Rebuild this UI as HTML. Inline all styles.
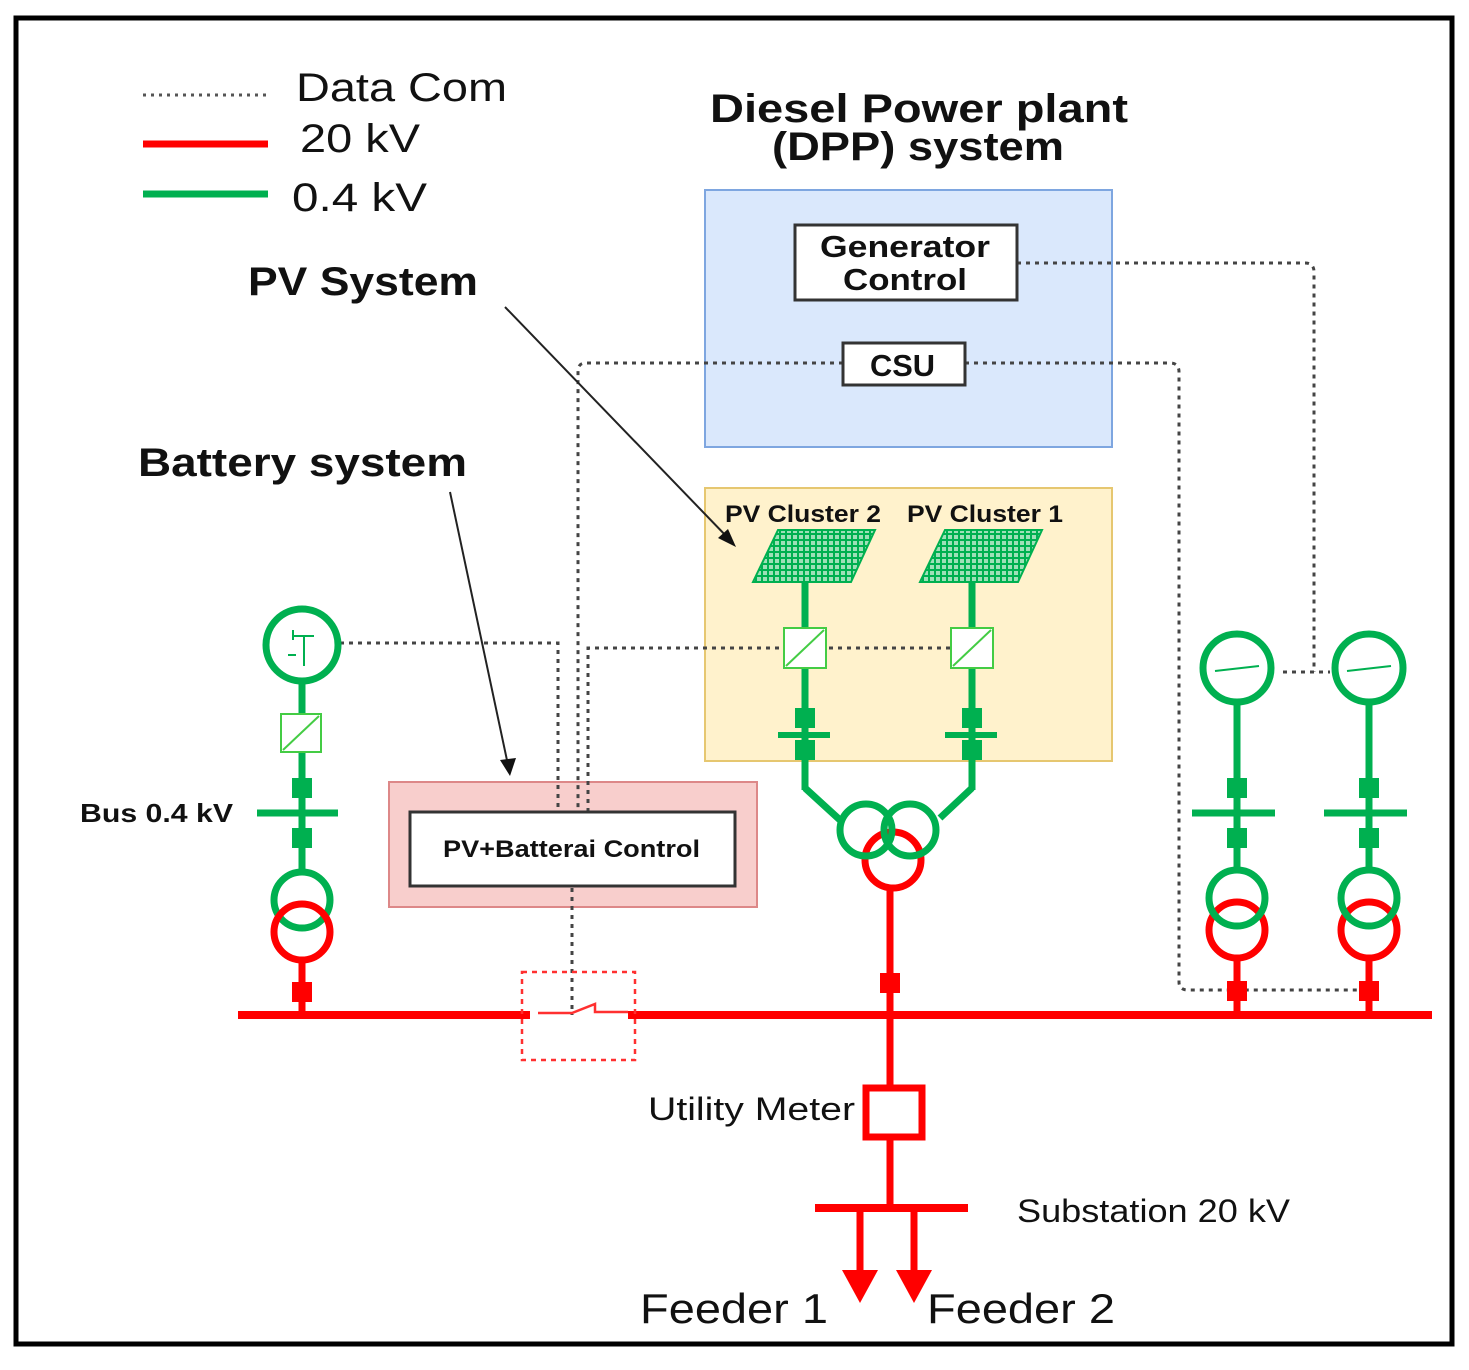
<!DOCTYPE html>
<html><head><meta charset="utf-8"><style>
html,body{margin:0;padding:0;background:#fff;}
svg{display:block;}
text{font-family:"Liberation Sans","DejaVu Sans",sans-serif;}
</style></head><body>
<svg width="1469" height="1370" viewBox="0 0 1469 1370" xmlns="http://www.w3.org/2000/svg">
<rect x="0" y="0" width="1469" height="1370" fill="#fff"/>
<rect x="16" y="18" width="1436" height="1326" fill="none" stroke="#000" stroke-width="5"/>

<!-- legend -->
<line x1="143" y1="95" x2="268" y2="95" stroke="#555" stroke-width="3" stroke-dasharray="3,5"/>
<line x1="143" y1="144" x2="268" y2="144" stroke="#ff0000" stroke-width="7"/>
<line x1="143" y1="194" x2="268" y2="194" stroke="#00b050" stroke-width="7"/>
<text x="296" y="101" font-size="40" fill="#111" textLength="211" lengthAdjust="spacingAndGlyphs">Data Com</text>
<text x="300" y="152" font-size="40" fill="#111" textLength="120" lengthAdjust="spacingAndGlyphs">20 kV</text>
<text x="292" y="211" font-size="40" fill="#111" textLength="135" lengthAdjust="spacingAndGlyphs">0.4 kV</text>

<text x="710" y="122" font-size="40" font-weight="bold" fill="#111" textLength="418" lengthAdjust="spacingAndGlyphs">Diesel Power plant</text>
<text x="772" y="160" font-size="40" font-weight="bold" fill="#111" textLength="292" lengthAdjust="spacingAndGlyphs">(DPP) system</text>
<text x="248" y="295" font-size="40" font-weight="bold" fill="#111" textLength="230" lengthAdjust="spacingAndGlyphs">PV System</text>
<text x="138" y="476" font-size="40" font-weight="bold" fill="#111" textLength="329" lengthAdjust="spacingAndGlyphs">Battery system</text>

<!-- boxes -->
<rect x="705" y="190" width="407" height="257" fill="#dae8fc" stroke="#7ea6e0" stroke-width="2"/>
<rect x="705" y="488" width="407" height="273" fill="#fff2cc" stroke="#e6c770" stroke-width="2"/>
<rect x="389" y="782" width="368" height="125" fill="#f8cecc" stroke="#d88" stroke-width="2"/>

<!-- data com lines -->
<g fill="none" stroke="#444" stroke-width="3" stroke-dasharray="4,5">
<path d="M1017 263 H1305 Q1314 263 1314 272 V672 M1283 672 H1330"/>
<path d="M965 363 H1170 Q1179 363 1179 372 V982 Q1179 990 1188 990 H1370"/>
<path d="M843 363 H586 Q578 363 578 371 V812"/>
<path d="M340 643 H558 V812"/>
<path d="M950 648 H588 V812"/>
<path d="M572 888 V1015"/>
</g>

<rect x="795" y="225" width="222" height="75" fill="#fff" stroke="#333" stroke-width="3"/>
<text x="820" y="257" font-size="31" font-weight="bold" fill="#111" textLength="170" lengthAdjust="spacingAndGlyphs">Generator</text>
<text x="843" y="290" font-size="31" font-weight="bold" fill="#111" textLength="124" lengthAdjust="spacingAndGlyphs">Control</text>
<rect x="843" y="343" width="122" height="42" fill="#fff" stroke="#333" stroke-width="3"/>
<text x="870" y="376" font-size="31" font-weight="bold" fill="#111" textLength="65" lengthAdjust="spacingAndGlyphs">CSU</text>
<rect x="410" y="812" width="325" height="74" fill="#fff" stroke="#333" stroke-width="3"/>
<text x="443" y="857" font-size="24" font-weight="bold" fill="#111" textLength="257" lengthAdjust="spacingAndGlyphs">PV+Batterai Control</text>

<!-- arrows -->
<line x1="505" y1="307" x2="730" y2="540" stroke="#222" stroke-width="2"/>
<polygon points="736,547 718,538 728,529" fill="#111"/>
<line x1="450" y1="492" x2="508" y2="765" stroke="#222" stroke-width="2"/>
<polygon points="510,776 500,760 516,758" fill="#111"/>

<!-- red main bus -->
<line x1="238" y1="1015" x2="530" y2="1015" stroke="#ff0000" stroke-width="8"/>
<line x1="628" y1="1015" x2="1432" y2="1015" stroke="#ff0000" stroke-width="8"/>
<rect x="522" y="972" width="113" height="88" fill="none" stroke="#ff3030" stroke-width="2.5" stroke-dasharray="5,5"/>
<path d="M538 1013 H572 L595 1004 V1012 H628" fill="none" stroke="#ff3030" stroke-width="2.5"/>

<!-- battery column -->
<g stroke="#00b050" fill="none">
<circle cx="302" cy="645" r="36" stroke-width="7"/>
<line x1="302" y1="681" x2="302" y2="874" stroke-width="7"/>
<line x1="257" y1="813" x2="338" y2="813" stroke-width="7"/>
<circle cx="302" cy="900" r="28" stroke-width="7"/>
</g>
<g stroke="#00b050" stroke-width="2" fill="none">
<line x1="294" y1="636" x2="314" y2="636"/><line x1="304" y1="636" x2="304" y2="666"/><line x1="288" y1="655" x2="296" y2="655"/><line x1="293" y1="630" x2="293" y2="640"/>
</g>
<rect x="281" y="714" width="40" height="38" fill="#fff" stroke="#4c4" stroke-width="2"/>
<line x1="283" y1="750" x2="319" y2="716" stroke="#4c4" stroke-width="2"/>
<rect x="292" y="778" width="20" height="20" fill="#00b050"/>
<rect x="292" y="828" width="20" height="20" fill="#00b050"/>
<circle cx="302" cy="932" r="28" stroke="#ff0000" stroke-width="7" fill="none"/>
<line x1="302" y1="960" x2="302" y2="1015" stroke="#ff0000" stroke-width="7"/>
<rect x="292" y="982" width="20" height="20" fill="#ff0000"/>
<text x="80" y="822" font-size="26" font-weight="bold" fill="#111" textLength="153" lengthAdjust="spacingAndGlyphs">Bus 0.4 kV</text>

<!-- PV clusters -->
<defs>
<pattern id="grid" width="6" height="6" patternUnits="userSpaceOnUse">
<rect width="6" height="6" fill="#00b050"/><rect x="1" y="1" width="4" height="4" fill="#9fe0b8"/>
</pattern>
</defs>
<text x="725" y="522" font-size="24" font-weight="bold" fill="#111" textLength="156" lengthAdjust="spacingAndGlyphs">PV Cluster 2</text>
<text x="907" y="522" font-size="24" font-weight="bold" fill="#111" textLength="156" lengthAdjust="spacingAndGlyphs">PV Cluster 1</text>
<g id="pv">
<polygon points="778,530 875,530 851,582 753,582" fill="url(#grid)" stroke="#00b050" stroke-width="2"/>
<line x1="805" y1="582" x2="805" y2="790" stroke="#00b050" stroke-width="7"/>
<rect x="784" y="628" width="42" height="40" fill="#fff" stroke="#4c4" stroke-width="2"/>
<line x1="786" y1="666" x2="824" y2="630" stroke="#4c4" stroke-width="2"/>
<rect x="795" y="708" width="20" height="20" fill="#00b050"/>
<rect x="795" y="740" width="20" height="20" fill="#00b050"/>
<line x1="778" y1="735" x2="830" y2="735" stroke="#00b050" stroke-width="6"/>
</g>
<use href="#pv" x="167"/>
<path d="M805 788 L840 820" stroke="#00b050" stroke-width="7" fill="none"/>
<path d="M972 788 L940 818" stroke="#00b050" stroke-width="7" fill="none"/>
<circle cx="893" cy="860" r="28" stroke="#ff0000" stroke-width="7" fill="none"/>
<circle cx="866" cy="830" r="26" stroke="#00b050" stroke-width="7" fill="none"/>
<circle cx="910" cy="830" r="26" stroke="#00b050" stroke-width="7" fill="none"/>
<line x1="890" y1="888" x2="890" y2="1208" stroke="#ff0000" stroke-width="7"/>
<rect x="880" y="973" width="20" height="20" fill="#ff0000"/>
<rect x="866" y="1088" width="56" height="49" fill="#fff" stroke="#ff0000" stroke-width="7"/>
<line x1="815" y1="1208" x2="968" y2="1208" stroke="#ff0000" stroke-width="8"/>
<line x1="860" y1="1208" x2="860" y2="1275" stroke="#ff0000" stroke-width="7"/>
<polygon points="842,1270 878,1270 860,1303" fill="#ff0000"/>
<line x1="914" y1="1208" x2="914" y2="1275" stroke="#ff0000" stroke-width="7"/>
<polygon points="896,1270 932,1270 914,1303" fill="#ff0000"/>
<text x="648" y="1120" font-size="32" fill="#111" textLength="207" lengthAdjust="spacingAndGlyphs">Utility Meter</text>
<text x="1017" y="1222" font-size="32" fill="#111" textLength="273" lengthAdjust="spacingAndGlyphs">Substation 20 kV</text>
<text x="640" y="1323" font-size="42" fill="#111" textLength="188" lengthAdjust="spacingAndGlyphs">Feeder 1</text>
<text x="927" y="1323" font-size="42" fill="#111" textLength="188" lengthAdjust="spacingAndGlyphs">Feeder 2</text>

<!-- generators -->
<g id="gen">
<circle cx="1237" cy="668" r="34" stroke="#00b050" stroke-width="7" fill="#fff"/>
<line x1="1215" y1="671" x2="1259" y2="666" stroke="#00b050" stroke-width="2"/>
<line x1="1237" y1="702" x2="1237" y2="872" stroke="#00b050" stroke-width="7"/>
<line x1="1192" y1="813" x2="1275" y2="813" stroke="#00b050" stroke-width="7"/>
<rect x="1227" y="778" width="20" height="20" fill="#00b050"/>
<rect x="1227" y="828" width="20" height="20" fill="#00b050"/>
<circle cx="1237" cy="930" r="28" stroke="#ff0000" stroke-width="7" fill="none"/>
<circle cx="1237" cy="898" r="28" stroke="#00b050" stroke-width="7" fill="none"/>
<line x1="1237" y1="958" x2="1237" y2="1015" stroke="#ff0000" stroke-width="7"/>
<rect x="1227" y="981" width="20" height="20" fill="#ff0000"/>
</g>
<use href="#gen" x="132"/>
</svg>
</body></html>
